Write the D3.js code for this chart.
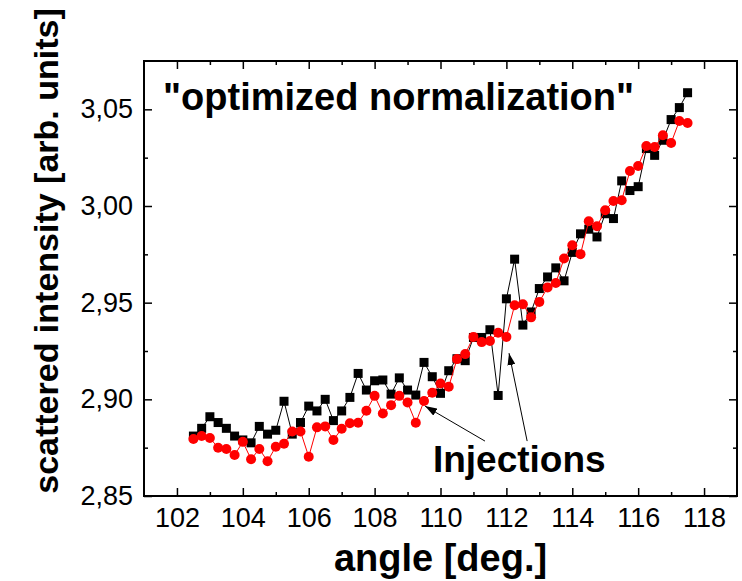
<!DOCTYPE html>
<meta charset="utf-8">
<script src="https://d3js.org/d3.v7.min.js"></script>
<style>
  body { margin: 0; background: #fff; }
  text { font-family: "Liberation Sans", Arial, sans-serif; }
</style>
<div id="chart"></div>
<script>
// angle [deg.]
var angle = [102.5, 102.75, 103, 103.25, 103.5, 103.75, 104, 104.25, 104.5, 104.75,
             105, 105.25, 105.5, 105.75, 106, 106.25, 106.5, 106.75, 107, 107.25,
             107.5, 107.75, 108, 108.25, 108.5, 108.75, 109, 109.25, 109.5, 109.75,
             110, 110.25, 110.5, 110.75, 111, 111.25, 111.5, 111.75, 112, 112.25,
             112.5, 112.75, 113, 113.25, 113.5, 113.75, 114, 114.25, 114.5, 114.75,
             115, 115.25, 115.5, 115.75, 116, 116.25, 116.5, 116.75, 117, 117.25, 117.5];

// black squares
var blackVals = [2.881, 2.885, 2.891, 2.888, 2.885, 2.881, 2.879, 2.8775, 2.886, 2.882,
                 2.884, 2.899, 2.882, 2.888, 2.8965, 2.894, 2.900, 2.889, 2.894, 2.901,
                 2.9134, 2.9048, 2.9096, 2.910, 2.9027, 2.9111, 2.9048, 2.9022, 2.9191, 2.9117,
                 2.9031, 2.9148, 2.921, 2.920, 2.932, 2.932, 2.936, 2.902, 2.952, 2.9725,
                 2.9384, 2.9452, 2.9573, 2.9633, 2.968, 2.9613, 2.976, 2.9856, 2.988, 2.984,
                 2.996, 2.9935, 3.013, 3.008, 3.010, 3.0297, 3.0262, 3.034, 3.0447, 3.0509, 3.0586];

// red circles
var redVals = [2.8795, 2.881, 2.880, 2.875, 2.8743, 2.8712, 2.878, 2.869, 2.8743, 2.868,
               2.8755, 2.877, 2.8834, 2.8834, 2.8703, 2.8855, 2.886, 2.879, 2.8848, 2.8876,
               2.8879, 2.8941, 2.9018, 2.8927, 2.897, 2.9018, 2.8984, 2.8879, 2.8991, 2.9034,
               2.9082, 2.9065, 2.9208, 2.9234, 2.9323, 2.9296, 2.9302, 2.9344, 2.9323, 2.9487,
               2.9492, 2.9424, 2.9504, 2.9579, 2.9602, 2.9728, 2.9797, 2.9751, 2.9921, 2.9895,
               2.9978, 3.0026, 3.003, 3.0181, 3.0207, 3.031, 3.0305, 3.0366, 3.0326, 3.044, 3.0429];

var xTicks = [102, 104, 106, 108, 110, 112, 114, 116, 118];
var xMinor = [103, 105, 107, 109, 111, 113, 115, 117];
var yTicks = [2.85, 2.90, 2.95, 3.00, 3.05];
var yMinor = [2.875, 2.925, 2.975, 3.025];

// arrows: [tailX, tailY, tipX, tipY] in data units
var arrows = [[111.35, 2.8784, 109.53, 2.8965],
              [112.63, 2.8784, 112.08, 2.9239]];

var W = 742, H = 581;
var x = d3.scaleLinear().domain([101, 119]).range([144, 737]);
var y = d3.scaleLinear().domain([2.85, 3.075]).range([496, 61]);

var svg = d3.select("#chart").append("svg")
    .attr("width", W).attr("height", H);

var fmt = d3.formatLocale({decimal: ",", thousands: ".", grouping: [3], currency: ["", ""]}).format(".2f");

// axes (ticks inward)
function styleAxis(g) {
  g.select(".domain").remove();
  g.selectAll(".tick line").attr("stroke", "#000").attr("stroke-width", 1.5);
  g.selectAll(".tick text").attr("fill", "#000").style("font-size", "27px")
    .style("font-family", "'Liberation Sans', Arial, sans-serif");
}

svg.append("g").attr("transform", "translate(0,496)")
  .call(d3.axisBottom(x).tickValues(xTicks).tickSizeInner(-8).tickSizeOuter(0).tickPadding(12).tickFormat(d3.format("d")))
  .call(styleAxis);
svg.append("g").attr("transform", "translate(0,496)")
  .call(d3.axisBottom(x).tickValues(xMinor).tickSizeInner(-4).tickSizeOuter(0).tickFormat(""))
  .call(styleAxis);
svg.append("g").attr("transform", "translate(0,61)")
  .call(d3.axisTop(x).tickValues(xTicks).tickSizeInner(-8).tickSizeOuter(0).tickFormat(""))
  .call(styleAxis);
svg.append("g").attr("transform", "translate(0,61)")
  .call(d3.axisTop(x).tickValues(xMinor).tickSizeInner(-4).tickSizeOuter(0).tickFormat(""))
  .call(styleAxis);

svg.append("g").attr("transform", "translate(144,0)")
  .call(d3.axisLeft(y).tickValues(yTicks).tickSizeInner(-8).tickSizeOuter(0).tickPadding(11).tickFormat(fmt))
  .call(styleAxis);
svg.append("g").attr("transform", "translate(144,0)")
  .call(d3.axisLeft(y).tickValues(yMinor).tickSizeInner(-4).tickSizeOuter(0).tickFormat(""))
  .call(styleAxis);
svg.append("g").attr("transform", "translate(737,0)")
  .call(d3.axisRight(y).tickValues(yTicks).tickSizeInner(-8).tickSizeOuter(0).tickFormat(""))
  .call(styleAxis);
svg.append("g").attr("transform", "translate(737,0)")
  .call(d3.axisRight(y).tickValues(yMinor).tickSizeInner(-4).tickSizeOuter(0).tickFormat(""))
  .call(styleAxis);

// frame
svg.append("rect")
  .attr("x", x(101)).attr("y", y(3.075))
  .attr("width", x(119) - x(101)).attr("height", y(2.85) - y(3.075))
  .attr("fill", "none").attr("stroke", "#000").attr("stroke-width", 2);

// series
var line = d3.line().x(function(d) { return x(d[0]); }).y(function(d) { return y(d[1]); });
var black = angle.map(function(a, i) { return [a, blackVals[i]]; });
var red = angle.map(function(a, i) { return [a, redVals[i]]; });

svg.append("path").datum(black).attr("d", line)
  .attr("fill", "none").attr("stroke", "#000").attr("stroke-width", 1);
svg.selectAll(".sq").data(black).enter().append("rect")
  .attr("class", "sq")
  .attr("x", function(d) { return x(d[0]) - 4.5; })
  .attr("y", function(d) { return y(d[1]) - 4.5; })
  .attr("width", 9).attr("height", 9)
  .attr("fill", "#000");

svg.append("path").datum(red).attr("d", line)
  .attr("fill", "none").attr("stroke", "#ff0000").attr("stroke-width", 1);
svg.selectAll(".ci").data(red).enter().append("circle")
  .attr("class", "ci")
  .attr("cx", function(d) { return x(d[0]); })
  .attr("cy", function(d) { return y(d[1]); })
  .attr("r", 5)
  .attr("fill", "#ff0000");

// annotation
svg.append("defs").append("marker")
  .attr("id", "arrow").attr("viewBox", "0 0 12 8")
  .attr("refX", 12).attr("refY", 4)
  .attr("markerWidth", 12).attr("markerHeight", 8)
  .attr("markerUnits", "userSpaceOnUse")
  .attr("orient", "auto")
  .append("path").attr("d", "M0,0 L12,4 L0,8 Z").attr("fill", "#000");

svg.selectAll(".arr").data(arrows).enter().append("line")
  .attr("class", "arr")
  .attr("x1", function(d) { return x(d[0]); })
  .attr("y1", function(d) { return y(d[1]); })
  .attr("x2", function(d) { return x(d[2]); })
  .attr("y2", function(d) { return y(d[3]); })
  .attr("stroke", "#000").attr("stroke-width", 1)
  .attr("marker-end", "url(#arrow)");

svg.append("text")
  .attr("x", x(109.77)).attr("y", y(2.8624))
  .style("font-size", "37px").style("font-weight", "bold")
  .text("Injections");

svg.append("text")
  .attr("x", x(101.58)).attr("y", 110)
  .style("font-size", "38px").style("font-weight", "bold")
  .text("\"optimized normalization\"");

// axis titles
svg.append("text")
  .attr("x", (x(101) + x(119)) / 2).attr("y", 571)
  .attr("text-anchor", "middle")
  .style("font-size", "38px").style("font-weight", "bold")
  .text("angle [deg.]");

svg.append("text")
  .attr("transform", "translate(58,251) rotate(-90)")
  .attr("text-anchor", "middle")
  .style("font-size", "34px").style("font-weight", "bold")
  .text("scattered intensity [arb. units]");
</script>
